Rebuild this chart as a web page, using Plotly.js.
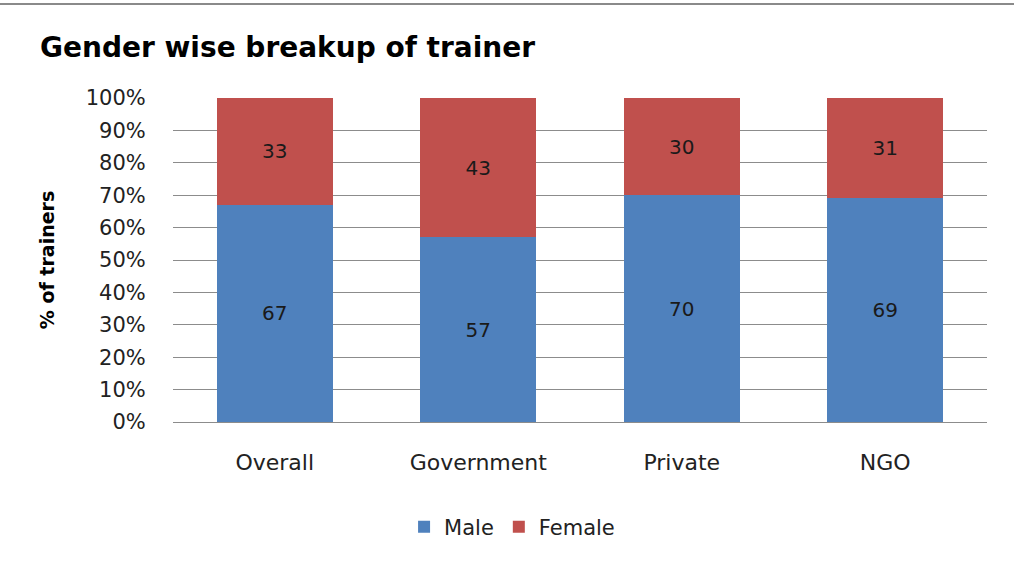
<!DOCTYPE html>
<html>
<head>
<meta charset="utf-8">
<script src="https://cdn.plot.ly/plotly-3.0.1.min.js"></script>
<style>
html,body{margin:0;padding:0;background:#fff;}
#chart{width:1014px;height:563px;position:relative;}
#topline{position:absolute;left:0;top:3px;width:1014px;height:2px;background:#8a8a8a;z-index:10;}
</style>
</head>
<body>
<div id="topline"></div>
<div id="chart"></div>
<script>
const categories = ["Overall", "Government", "Private", "NGO"];
const maleValues = [67, 57, 70, 69];
const femaleValues = [33, 43, 30, 31];
const yTickVals = [0, 10, 20, 30, 40, 50, 60, 70, 80, 90, 100];
const yTickText = ["0%", "10%", "20%", "30%", "40%", "50%", "60%", "70%", "80%", "90%", "100%"];

const font = "DejaVu Sans, sans-serif";

const traces = [
  {
    type: "bar", name: "Male", x: categories, y: maleValues,
    marker: {color: "#4F81BD"},
    text: maleValues.map(String), textposition: "inside", insidetextanchor: "middle",
    textfont: {family: font, size: 20, color: "#1a1a1a"},
    hoverinfo: "x+y+name"
  },
  {
    type: "bar", name: "Female", x: categories, y: femaleValues,
    marker: {color: "#C0504D"},
    text: femaleValues.map(String), textposition: "inside", insidetextanchor: "middle",
    textfont: {family: font, size: 20, color: "#1a1a1a"},
    hoverinfo: "x+y+name"
  }
];

const layout = {
  width: 1014, height: 563,
  margin: {l: 173, r: 27, t: 98, b: 141},
  paper_bgcolor: "#fff", plot_bgcolor: "#fff",
  barmode: "stack",
  bargap: 0.43,
  showlegend: true,
  title: {
    text: "<b>Gender wise breakup of trainer</b>",
    font: {family: font, size: 28, color: "#000"},
    x: 40/1014, xref: "container", xanchor: "left",
    y: 1 - 47/563, yref: "container", yanchor: "middle"
  },
  xaxis: {
    tickfont: {family: font, size: 22, color: "#222"},
    ticks: "outside", ticklen: 21, tickcolor: "rgba(0,0,0,0)",
    showline: false, showgrid: false, zeroline: false
  },
  yaxis: {
    range: [0, 100], tickvals: yTickVals, ticktext: yTickText,
    tickfont: {family: font, size: 21, color: "#222"},
    ticks: "outside", ticklen: 22, tickcolor: "rgba(0,0,0,0)",
    showgrid: true, gridcolor: "#8c8c8c", gridwidth: 1,
    zeroline: true, zerolinecolor: "#8c8c8c", zerolinewidth: 1,
    showline: false,
    title: {text: "<b>% of trainers</b>", font: {family: font, size: 19, color: "#000"}, standoff: 26}
  },
  legend: {
    orientation: "h",
    x: 0.505, xref: "container", xanchor: "center",
    y: 1 - 527/563, yref: "container", yanchor: "middle",
    font: {family: font, size: 21, color: "#222"},
    traceorder: "normal"
  }
};

Plotly.newPlot("chart", traces, layout, {displayModeBar: false, staticPlot: true});
</script>
</body>
</html>
